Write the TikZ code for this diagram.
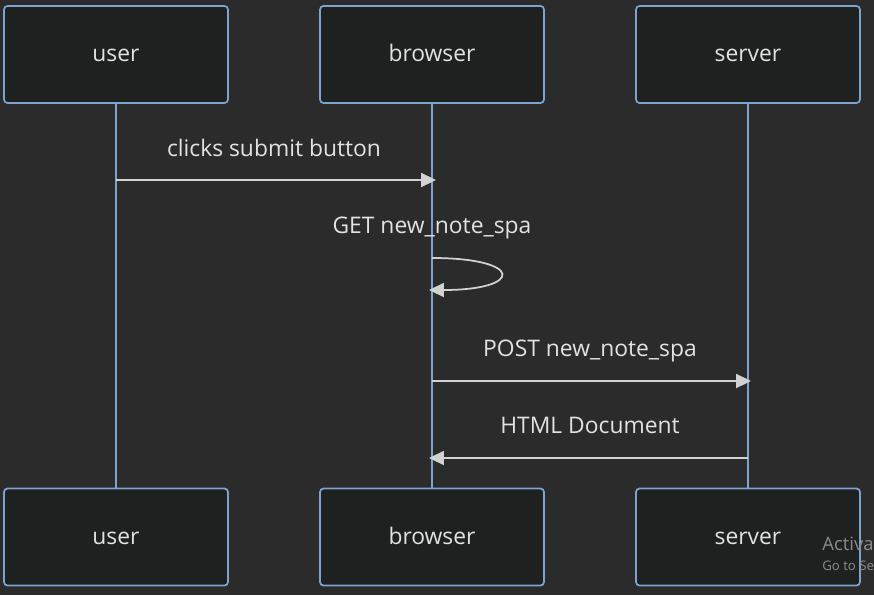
\documentclass[tikz,border=0pt]{standalone}
\usepackage{fontspec}
\setmainfont{Open Sans}
\usetikzlibrary{arrows.meta}
\definecolor{bgcol}{RGB}{43,43,43}
\definecolor{boxcol}{RGB}{31,32,32}
\definecolor{linecol}{RGB}{124,164,206}
\definecolor{txtcol}{RGB}{226,226,226}
\definecolor{arrcol}{RGB}{210,210,210}
\definecolor{wmcol}{RGB}{140,140,140}
\begin{document}
\begin{tikzpicture}[x=0.02cm,y=-0.02cm,
  actor/.style={draw=linecol,fill=boxcol,rounded corners=2pt,line width=1pt,
    minimum width=4.48cm,minimum height=1.94cm,text=txtcol,
    text height=0.9em,text depth=0.06em,font=\fontsize{13}{15}\selectfont},
  life/.style={draw=linecol,line width=1.5pt},
  msg/.style={draw=arrcol,line width=1pt,-{Triangle[length=8.5pt,width=8pt]}},
  lbl/.style={text=txtcol,text height=0.9em,text depth=0.06em,font=\fontsize{13}{15}\selectfont}]
\fill[bgcol] (0,0) rectangle (874,595);
\useasboundingbox (0,0) rectangle (874,595);
\node[actor] (usertop) at (116,54.5) {user};
\node[actor] (browsertop) at (432,54.5) {browser};
\node[actor] (servertop) at (748,54.5) {server};
\node[actor] (userbot) at (116,537) {user};
\node[actor] (browserbot) at (432,537) {browser};
\node[actor] (serverbot) at (748,537) {server};
\draw[life] (usertop.south) -- (userbot.north);
\draw[life] (browsertop.south) -- (browserbot.north);
\draw[life] (servertop.south) -- (serverbot.north);
\coordinate (u1) at (116,180);
\coordinate (b1) at (436,180);
\coordinate (b2) at (432,258);
\coordinate (b3) at (429,290);
\coordinate (b4) at (432,381);
\coordinate (s4) at (751,381);
\coordinate (s5) at (748,458);
\coordinate (b5) at (429,458);
\node[lbl] (clicks) at (274,149) {clicks submit button};
\draw[msg] (u1) -- (b1);
\node[lbl] (get) at (432,226) {GET new\_note\_spa};
\draw[msg] (b2) .. controls (524,258) and (524,290) .. (b3);
\node[lbl] (post) at (590,349) {POST new\_note\_spa};
\draw[msg] (b4) -- (s4);
\node[lbl] (html) at (590,426) {HTML Document};
\draw[msg] (s5) -- (b5);
\node[anchor=west,inner sep=0pt,text=wmcol,font=\fontsize{10.5}{12}\selectfont] (wm1) at (822,544) {Activa};
\node[anchor=west,inner sep=0pt,text=wmcol,font=\fontsize{7.5}{9}\selectfont] (wm2) at (822,566) {Go to Se};
\end{tikzpicture}
\end{document}
